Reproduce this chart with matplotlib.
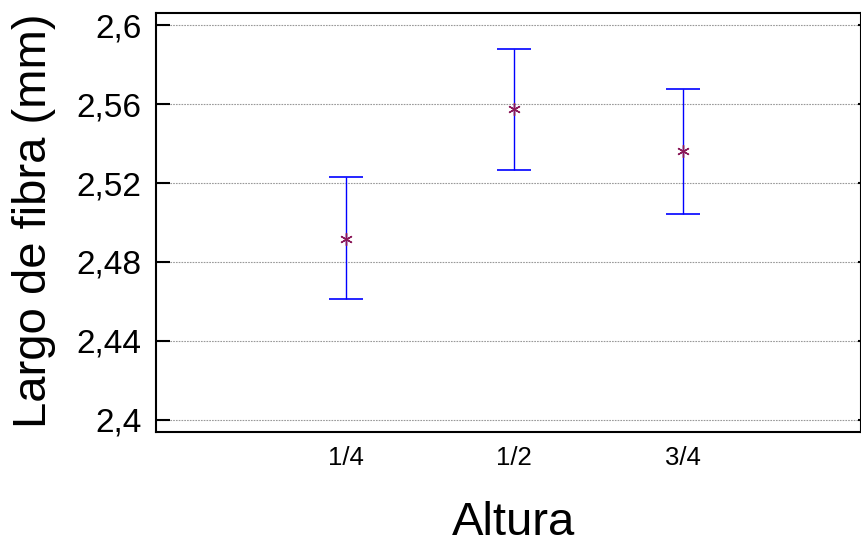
import matplotlib
matplotlib.use("Agg")
import matplotlib.pyplot as plt

categories = ["1/4", "1/2", "3/4"]
means = [2.4917, 2.5575, 2.5362]
lower = [2.4614, 2.5264, 2.5045]
upper = [2.5229, 2.5878, 2.5677]
yticks = [2.4, 2.44, 2.48, 2.52, 2.56, 2.6]
ytick_labels = ["2,4", "2,44", "2,48", "2,52", "2,56", "2,6"]

plt.rcParams['font.family'] = ['Liberation Sans', 'DejaVu Sans']

fig = plt.figure(figsize=(8.62, 5.45), dpi=100)
ax = fig.add_axes([156/862, 1-432/545, (861-156)/862, (432-13)/545])

x = [1, 2, 3]
err_lo = [m - l for m, l in zip(means, lower)]
err_hi = [u - m for m, u in zip(means, upper)]
ax.errorbar(x, means, yerr=[err_lo, err_hi], fmt='none', ecolor='#0000FF',
            elinewidth=1.0, capsize=12.2, capthick=1.2, zorder=3)
ax.plot(x, means, linestyle='none', marker=(6, 2, 0), markersize=9,
        markeredgewidth=1.0, color='#8B1A5A', zorder=4)

ax.set_xlim(-0.126, 4.058)
ax.set_ylim(2.3939, 2.6061)
ax.set_xticks(x)
ax.set_xticklabels(categories, fontsize=18.5)
ax.set_yticks(yticks)
ax.set_yticklabels(ytick_labels, fontsize=24)

ax.grid(axis='y', linestyle=(0, (1.5, 1)), color='#999999', linewidth=0.8, zorder=0)
ax.set_axisbelow(True)

ax.tick_params(axis='x', length=0, pad=10)
ax.tick_params(axis='y', direction='in', length=10, width=1.5, pad=10.5,
               right=True)
for t in ax.yaxis.get_major_ticks():
    t.tick2line.set_markersize(2.5)

for s in ax.spines.values():
    s.set_linewidth(1.5)

fig.text(34/862, 1-221/545, "Largo de fibra (mm)", rotation=90,
         ha='center', va='center', fontsize=34)
fig.text(514/862, 1-535/545, "Altura", ha='center', va='baseline', fontsize=34)

fig.savefig("out.png", dpi=100)
